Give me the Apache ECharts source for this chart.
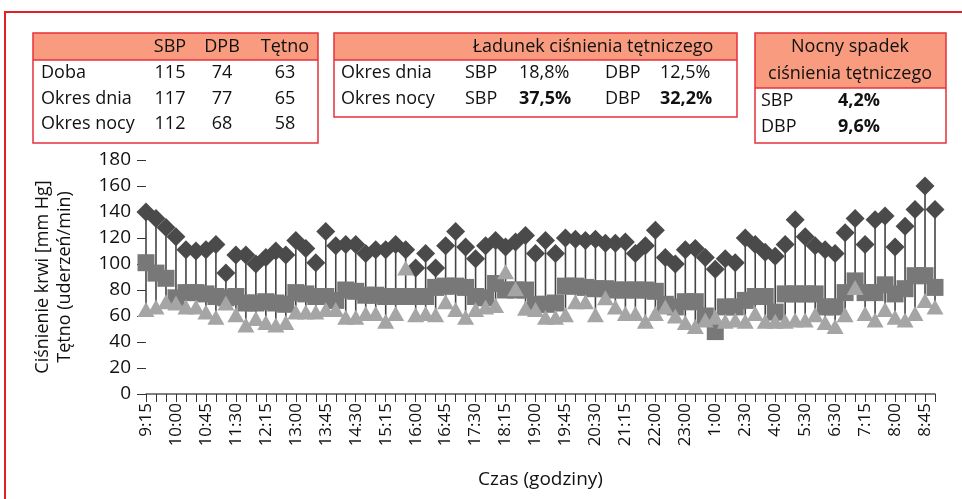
<!DOCTYPE html>
<html>
<head>
<meta charset="utf-8">
<title>Ciśnienie krwi</title>
<script src="https://cdn.jsdelivr.net/npm/echarts@6/dist/echarts.min.js"></script>
<style>
  html, body { margin: 0; padding: 0; background: #fff; }
  #chart { width: 962px; height: 499px; }
</style>
</head>
<body>
<div id="chart"></div>
<script>
// godziny pomiarow (co 3. etykieta widoczna na osi)
var czas = [
    '9:15', '9:30', '9:45', '10:00', '10:15', '10:30', '10:45', '11:00', '11:15', '11:30',
    '11:45', '12:00', '12:15', '12:30', '12:45', '13:00', '13:15', '13:30', '13:45', '14:00',
    '14:15', '14:30', '14:45', '15:00', '15:15', '15:30', '15:45', '16:00', '16:15', '16:30',
    '16:45', '17:00', '17:15', '17:30', '17:45', '18:00', '18:15', '18:30', '18:45', '19:00',
    '19:15', '19:30', '19:45', '20:00', '20:15', '20:30', '20:45', '21:00', '21:15', '21:30',
    '21:45', '22:00', '22:20', '22:40', '23:00', '23:40', '0:20', '1:00', '1:30', '2:00',
    '2:30', '3:00', '3:30', '4:00', '4:30', '5:00', '5:30', '5:50', '6:10', '6:30',
    '6:45', '7:00', '7:15', '7:30', '7:45', '8:00', '8:15', '8:30', '8:45', '9:00'
];
var sbp = [
    140, 135, 128, 121, 111, 110, 111, 115, 93, 107, 107, 100, 105,
    110, 107, 118, 112, 101, 125, 114, 115, 115, 108, 111, 111, 115,
    111, 97, 108, 97, 114, 125, 113, 104, 114, 118, 113, 117, 122, 108,
    118, 108, 120, 119, 118, 119, 116, 116, 117, 108, 114, 126, 105,
    100, 111, 112, 105, 96, 104, 101, 120, 115, 109, 106, 115, 134,
    121, 114, 111, 108, 124, 135, 115, 134, 137, 113, 129, 142, 160, 142
];
var dbp = [
    101, 93, 89, 74, 78, 78, 77, 75, 74, 75, 70, 70, 71,
    70, 69, 78, 77, 75, 75, 72, 80, 79, 76, 76, 75, 75,
    75, 75, 75, 82, 83, 83, 82, 75, 74, 85, 80, 80, 80, 69,
    69, 70, 83, 83, 82, 81, 81, 80, 80, 80, 80, 79, 69,
    67, 71, 71, 60, 48, 67, 67, 72, 75, 75, 63, 77, 77,
    77, 77, 67, 67, 78, 87, 78, 78, 84, 77, 81, 91, 91, 82
];
var tetno = [
    65, 67, 71, 70, 67, 67, 63, 59, 70, 61, 53, 58, 55,
    53, 55, 63, 63, 63, 65, 65, 59, 59, 62, 62, 56, 62,
    97, 61, 62, 61, 71, 65, 59, 65, 67, 68, 94, 81, 66, 65,
    59, 59, 61, 71, 71, 61, 74, 67, 62, 62, 56, 62, 67,
    60, 55, 52, 57, 59, 56, 57, 56, 62, 56, 56, 56, 57,
    57, 61, 55, 52, 61, 82, 62, 57, 65, 59, 57, 62, 72, 67
];

// tabele nad wykresem
var tab1Head = ['SBP', 'DPB', 'Tętno'];
var tab1Rows = [
    ['Doba', '115', '74', '63'],
    ['Okres dnia', '117', '77', '65'],
    ['Okres nocy', '112', '68', '58']
];
var tab2Head = 'Ładunek ciśnienia tętniczego';
var tab2Rows = [
    ['Okres dnia', 'SBP', '18,8%', 'DBP', '12,5%'],
    ['Okres nocy', 'SBP', '37,5%', 'DBP', '32,2%']
];
var tab2Bold = [false, true];
var tab3Head = ['Nocny spadek', 'ciśnienia tętniczego'];
var tab3Rows = [
    ['SBP', '4,2%'],
    ['DBP', '9,6%']
];

var FONT = '"Open Sans", sans-serif';
var RED = '#e8313b', SALMON = '#f89b7e', INK = '#111';

var chart = echarts.init(document.getElementById('chart'), null, { renderer: 'canvas' });

function txt(x, y, s, align, bold) {
    return {
        type: 'text', x: x, y: y,
        style: {
            text: s, fill: INK, font: (bold ? 'bold ' : '') + '18px ' + FONT,
            align: align || 'left', verticalAlign: 'middle'
        }
    };
}
function box(x, y, w, h, headH) {
    return [
        { type: 'rect', shape: { x: x, y: y, width: w, height: headH }, style: { fill: SALMON } },
        { type: 'line', shape: { x1: x, y1: y + headH, x2: x + w, y2: y + headH }, style: { stroke: RED, lineWidth: 1.5 } },
        { type: 'rect', shape: { x: x, y: y, width: w, height: h }, style: { fill: 'none', stroke: RED, lineWidth: 1.5 } }
    ];
}

var graphics = [
    { type: 'polyline', shape: { points: [[5, 499], [5, 12], [962, 12]] }, style: { stroke: '#e31e24', lineWidth: 2, fill: 'none' } }
];
graphics = graphics.concat(box(33, 33, 285, 110, 27), box(334, 33, 403, 84, 27), box(755, 33, 191, 110, 55));

// tabela 1
var t1x = [170, 222, 285];
tab1Head.forEach(function (h, i) { graphics.push(txt(t1x[i], 47, h, 'center')); });
tab1Rows.forEach(function (r, j) {
    var y = 73 + j * 25.5;
    graphics.push(txt(41, y, r[0]));
    for (var k = 1; k < r.length; k++) graphics.push(txt(t1x[k - 1], y, r[k], 'center'));
});
// tabela 2
graphics.push(txt(593, 47, tab2Head, 'center'));
var t2x = [341, 465, 519, 605, 660];
tab2Rows.forEach(function (r, j) {
    var y = 73 + j * 26;
    r.forEach(function (s, k) {
        graphics.push(txt(t2x[k], y, s, 'left', tab2Bold[j] && (k === 2 || k === 4)));
    });
});
// tabela 3
graphics.push(txt(850, 47, tab3Head[0], 'center'));
graphics.push(txt(850, 74, tab3Head[1], 'center'));
tab3Rows.forEach(function (r, j) {
    var y = 101 + j * 26;
    graphics.push(txt(761, y, r[0]));
    graphics.push(txt(838, y, r[1], 'left', true));
});

// linie max-min dla kazdego pomiaru
var hilo = sbp.map(function (v, i) { return [i, v, Math.min(dbp[i], tetno[i])]; });

var option = {
    animation: false,
    backgroundColor: '#fff',
    textStyle: { fontFamily: FONT },
    graphic: graphics,
    grid: { left: 146, right: 27, top: 160, bottom: 105, containLabel: false },
    xAxis: {
        type: 'category',
        data: czas,
        boundaryGap: false,
        name: 'Czas (godziny)',
        nameLocation: 'middle',
        nameGap: 76,
        nameTextStyle: { fontSize: 19, color: INK, fontFamily: FONT },
        axisLine: { lineStyle: { color: '#555', width: 1.5 } },
        axisTick: { interval: 0, length: 8, lineStyle: { color: '#333', width: 1 } },
        axisLabel: { interval: 2, rotate: 90, fontSize: 17, color: INK, margin: 9, fontFamily: FONT }
    },
    yAxis: {
        type: 'value',
        min: 0, max: 180, interval: 20,
        name: 'Ciśnienie krwi [mm Hg]\nTętno (uderzeń/min)',
        nameLocation: 'middle',
        nameGap: 70,
        nameTextStyle: { fontSize: 18, color: INK, lineHeight: 22, fontFamily: FONT },
        axisLine: { show: false },
        axisTick: { show: true, length: 9, lineStyle: { color: '#333' } },
        axisLabel: { fontSize: 19, color: INK, margin: 15, fontFamily: FONT },
        splitLine: { show: false }
    },
    series: [
        {
            type: 'custom',
            name: 'hilo',
            data: hilo,
            encode: { x: 0, y: [1, 2] },
            renderItem: function (params, api) {
                var a = api.coord([api.value(0), api.value(1)]);
                var b = api.coord([api.value(0), api.value(2)]);
                return {
                    type: 'line',
                    shape: { x1: a[0], y1: a[1], x2: b[0], y2: b[1] },
                    style: { stroke: '#444', lineWidth: 1.6 }
                };
            },
            z: 1
        },
        {
            type: 'scatter', name: 'SBP', data: sbp,
            symbol: 'diamond', symbolSize: 19,
            itemStyle: { color: '#4a4a4a', opacity: 1 }, z: 2
        },
        {
            type: 'scatter', name: 'DBP', data: dbp,
            symbol: 'rect', symbolSize: 17,
            itemStyle: { color: '#787878', opacity: 1 }, z: 3
        },
        {
            type: 'scatter', name: 'Tętno', data: tetno,
            symbol: 'triangle', symbolSize: [17, 15],
            itemStyle: { color: '#a5a5a5', opacity: 1 }, z: 4
        }
    ]
};
chart.setOption(option);
window.onresize = chart.resize;
</script>
</body>
</html>
